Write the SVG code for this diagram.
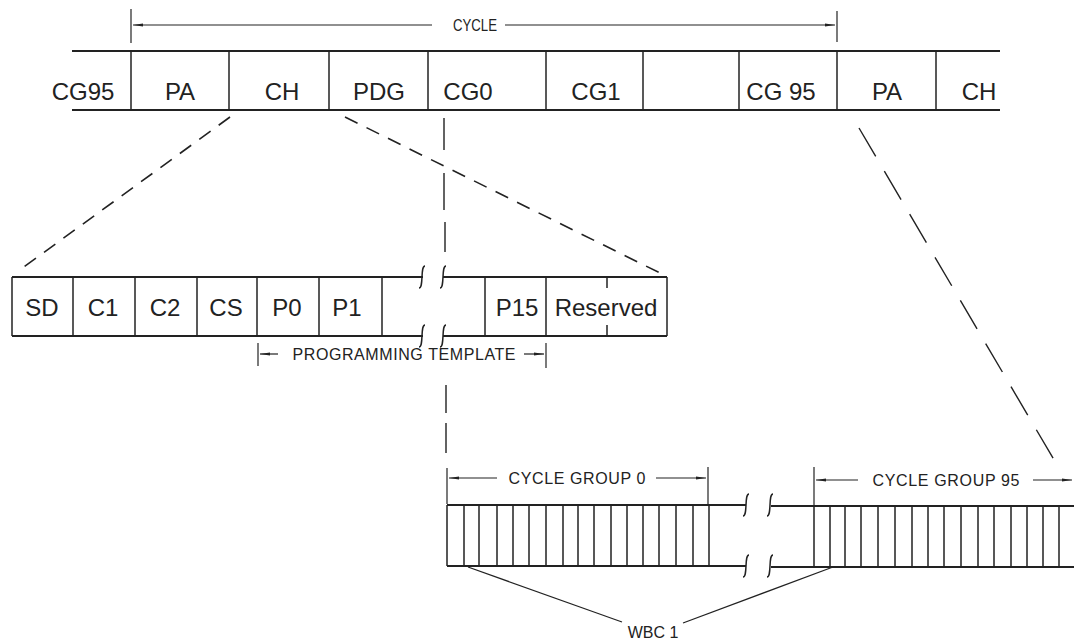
<svg xmlns="http://www.w3.org/2000/svg" width="1074" height="643" viewBox="0 0 1074 643">
<defs>
<marker id="ah" viewBox="0 0 10 6" refX="10" refY="3" markerWidth="10" markerHeight="6" markerUnits="userSpaceOnUse" orient="auto-start-reverse">
<path d="M0,1.5 L10,3 L0,4.5 Z" fill="#222"/>
</marker>
<style>
.ln{stroke:#222;stroke-width:2;fill:none}
.dv{stroke:#222;stroke-width:1.5;fill:none}
.th{stroke:#222;stroke-width:1.2;fill:none}
.ds{stroke:#222;stroke-width:1.6;fill:none;stroke-dasharray:14 10}
.dl{stroke:#222;stroke-width:1.4;fill:none;stroke-dasharray:33 17}
.vs{stroke:#222;stroke-width:1.4;fill:none}
.br{stroke:#222;stroke-width:1.5;fill:none}
.big{font-family:"Liberation Sans",Arial,sans-serif;font-size:24px;fill:#222;text-anchor:middle}
.sm{font-family:"Liberation Sans",Arial,sans-serif;font-size:16px;fill:#222;text-anchor:middle}
</style>
</defs>
<rect width="1074" height="643" fill="#fff"/>

<g id="cycle-dimension">
<line class="th" x1="131" y1="9" x2="131" y2="43"/>
<line class="th" x1="837" y1="11" x2="837" y2="42"/>
<line class="th" x1="133" y1="25" x2="432" y2="25" marker-start="url(#ah)"/>
<line class="th" x1="505" y1="25" x2="835" y2="25" marker-end="url(#ah)"/>
<text class="sm" x="475" y="31" textLength="44" lengthAdjust="spacingAndGlyphs">CYCLE</text>
</g>

<g id="top-row">
<line class="ln" x1="72" y1="51" x2="1000" y2="51"/>
<line class="ln" x1="72" y1="110" x2="1000" y2="110"/>
<g class="dv">
<line x1="131" y1="51" x2="131" y2="110"/>
<line x1="229" y1="51" x2="229" y2="110"/>
<line x1="329" y1="51" x2="329" y2="110"/>
<line x1="428" y1="51" x2="428" y2="110"/>
<line x1="546" y1="51" x2="546" y2="110"/>
<line x1="643" y1="51" x2="643" y2="110"/>
<line x1="739" y1="51" x2="739" y2="110"/>
<line x1="837" y1="51" x2="837" y2="110"/>
<line x1="936" y1="51" x2="936" y2="110"/>
</g>
<text class="big" x="83" y="100">CG95</text>
<text class="big" x="180" y="100">PA</text>
<text class="big" x="282" y="100">CH</text>
<text class="big" x="379" y="100">PDG</text>
<text class="big" x="468" y="100">CG0</text>
<text class="big" x="596" y="100">CG1</text>
<text class="big" x="781" y="100">CG 95</text>
<text class="big" x="887" y="100">PA</text>
<text class="big" x="979" y="100">CH</text>
</g>

<g id="connectors">
<line class="ds" x1="230" y1="117" x2="17" y2="272"/>
<line class="ds" x1="345" y1="117" x2="660" y2="273"/>
<path class="vs" d="M444,118V150 M444,173V210 M445,222V252 M446,385V413 M446,423V453"/>
<line class="dl" x1="859" y1="128" x2="1060" y2="470"/>
<line class="th" x1="468" y1="567" x2="622" y2="622"/>
<line class="th" x1="683" y1="623" x2="833" y2="567"/>
</g>

<g id="packet">
<line class="ln" x1="12" y1="277" x2="423" y2="277"/>
<line class="ln" x1="12" y1="336" x2="423" y2="336"/>
<line class="ln" x1="443" y1="277" x2="667" y2="277"/>
<line class="ln" x1="443" y1="336" x2="667" y2="336"/>
<g class="dv">
<line x1="12" y1="277" x2="12" y2="336"/>
<line x1="73" y1="277" x2="73" y2="336"/>
<line x1="135" y1="277" x2="135" y2="336"/>
<line x1="197" y1="277" x2="197" y2="336"/>
<line x1="257" y1="277" x2="257" y2="336"/>
<line x1="319" y1="277" x2="319" y2="336"/>
<line x1="382" y1="277" x2="382" y2="336"/>
<line x1="485" y1="277" x2="485" y2="336"/>
<line x1="546" y1="277" x2="546" y2="336"/>
<line x1="667" y1="277" x2="667" y2="336"/>
<line x1="607" y1="277" x2="607" y2="288"/>
<line x1="607" y1="325" x2="607" y2="336"/>
</g>
<g class="br">
<path d="M425,266 C420,266 424,288 419,288"/>
<path d="M446,266 C441,266 445,288 440,288"/>
<path d="M425,325 C420,325 424,347 419,347"/>
<path d="M446,325 C441,325 445,347 440,347"/>
</g>
<text class="big" x="42" y="316">SD</text>
<text class="big" x="103" y="316">C1</text>
<text class="big" x="165" y="316">C2</text>
<text class="big" x="226" y="316">CS</text>
<text class="big" x="287" y="316">P0</text>
<text class="big" x="347" y="316">P1</text>
<text class="big" x="517" y="316">P15</text>
<text class="big" x="606" y="316">Reserved</text>
</g>

<g id="programming-template">
<line class="th" x1="258" y1="343" x2="258" y2="366"/>
<line class="th" x1="546" y1="343" x2="546" y2="368"/>
<line class="th" x1="260" y1="354" x2="278" y2="354" marker-start="url(#ah)"/>
<line class="th" x1="524" y1="354" x2="544" y2="354" marker-end="url(#ah)"/>
<text class="sm" x="404" y="360" textLength="223" lengthAdjust="spacing">PROGRAMMING TEMPLATE</text>
</g>

<g id="cycle-group-0">
<line class="th" x1="447" y1="468" x2="447" y2="504"/>
<line class="th" x1="708" y1="467" x2="708" y2="504"/>
<line class="th" x1="449" y1="478" x2="497" y2="478" marker-start="url(#ah)"/>
<line class="th" x1="656" y1="478" x2="706" y2="478" marker-end="url(#ah)"/>
<text class="sm" x="577" y="484" textLength="137" lengthAdjust="spacing">CYCLE GROUP 0</text>
</g>

<g id="cycle-group-95">
<line class="th" x1="814" y1="467" x2="814" y2="506"/>
<line class="th" x1="816" y1="480" x2="858" y2="480" marker-start="url(#ah)"/>
<line class="th" x1="1033" y1="480" x2="1072" y2="480" marker-end="url(#ah)"/>
<text class="sm" x="946" y="486" textLength="147" lengthAdjust="spacing">CYCLE GROUP 95</text>
</g>

<g id="strip">
<line class="ln" x1="447" y1="505" x2="746" y2="505"/>
<line class="ln" x1="447" y1="566" x2="746" y2="566"/>
<line class="ln" x1="771" y1="506" x2="1074" y2="506"/>
<line class="ln" x1="771" y1="567" x2="1074" y2="567"/>
<g class="br">
<path d="M749,494 C744,494 748,516 743,516"/>
<path d="M773,494 C768,494 772,516 767,516"/>
<path d="M749,555 C744,555 748,577 743,577"/>
<path d="M773,555 C768,555 772,577 767,577"/>
</g>
<g class="dv">
<path d="M447,505V566 M464,505V566 M479,505V566 M497,505V566 M513,505V566 M529,505V566 M546,505V566 M563,505V566 M578,505V566 M594,505V566 M611,505V566 M627,505V566 M643,505V566 M659,505V566 M676,505V566 M693,505V566 M709,505V566"/>
<path d="M814,506V567 M830,506V567 M845,506V567 M861,506V567 M878,506V567 M895,506V567 M912,506V567 M928,506V567 M944,506V567 M961,506V567 M978,506V567 M994,506V567 M1011,506V567 M1027,506V567 M1043,506V567 M1059,506V567"/>
</g>
<text class="sm" x="653" y="638">WBC 1</text>
</g>
</svg>
